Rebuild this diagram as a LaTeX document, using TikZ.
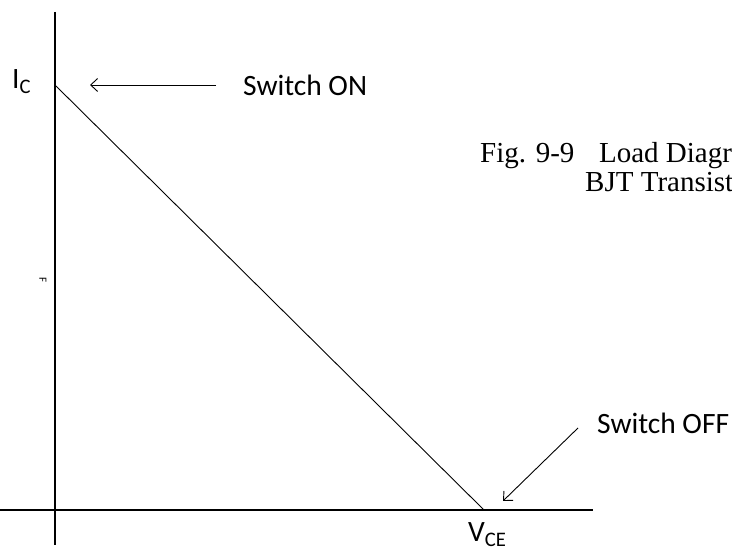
\documentclass[tikz,border=0pt]{standalone}
\usepackage{fontspec}
\setmainfont{Liberation Serif}
\newfontfamily\calib{Carlito}
\usetikzlibrary{arrows.meta}
\tikzset{
  axis/.style={line width=1.6pt},
  loadline/.style={line width=0.9pt},
  pointer/.style={line width=0.9pt, -{Straight Barb[length=7pt,width=13pt]}},
  lbl/.style={font=\calib\fontsize{29.5}{34}\selectfont, inner sep=0pt, anchor=base west},
  figcaption/.style={font=\fontsize{29}{33}\selectfont, inner sep=0pt, anchor=base west},
}
\begin{document}
\begin{tikzpicture}[x=1pt,y=1pt]
\useasboundingbox (0,0) rectangle (732,553);
\clip (0,0) rectangle (732,553);
% axes
\coordinate (ytop) at (55,541);
\coordinate (ybot) at (55,8);
\coordinate (xleft) at (0,43);
\coordinate (xright) at (593,43);
\draw[axis] (ytop) -- (ybot);
\draw[axis] (xleft) -- (xright);
% load line
\coordinate (ic) at (56,467);
\coordinate (vce) at (484,43);
\draw[loadline] (ic) -- (vce);
% labels
\node[lbl] (IC) at (12,464) {I\textsubscript{C}};
\node[lbl] (on) at (243,457) {Switch ON};
\coordinate (ontail) at (216,468);
\coordinate (ontip) at (90,468);
\draw[pointer] (ontail) -- (ontip);
\node[lbl] (off) at (597,119) {Switch OFF};
\coordinate (offtail) at (578,125);
\coordinate (offtip) at (503,52);
\draw[pointer] (offtail) -- (offtip);
\node[lbl] (VCE) at (468,11) {V\textsubscript{CE}};
\node[font=\calib\fontsize{11}{13}\selectfont, rotate=-90, inner sep=0pt] (F) at (43,273) {F};
% caption
\node[figcaption] (cap1) at (480,390) {Fig. 9-9\hspace{0.85em}Load Diagr};
\node[figcaption] (cap2) at (585,361) {BJT Transist};
\end{tikzpicture}
\end{document}
